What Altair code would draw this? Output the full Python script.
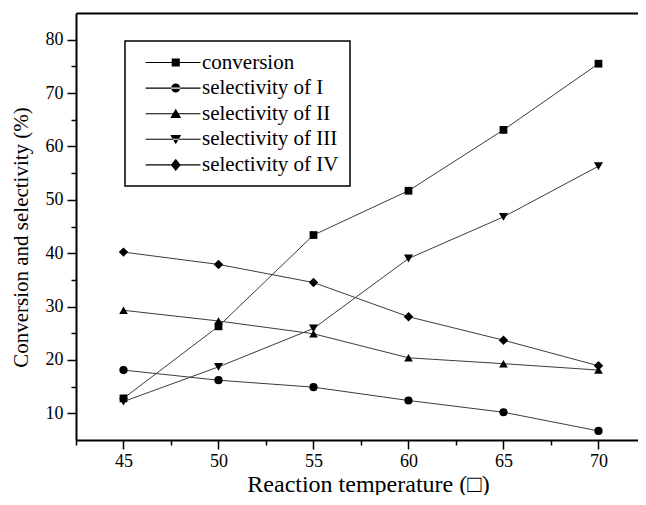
import altair as alt
import pandas as pd

temps = [45, 50, 55, 60, 65, 70]
series_names = ["conversion", "selectivity of I", "selectivity of II",
                "selectivity of III", "selectivity of IV"]
conversion = [12.8, 26.3, 43.4, 51.7, 63.1, 75.5]
sel_I = [18.1, 16.2, 14.9, 12.4, 10.2, 6.7]
sel_II = [29.3, 27.3, 24.9, 20.4, 19.3, 18.1]
sel_III = [12.2, 18.7, 25.9, 39.0, 46.8, 56.3]
sel_IV = [40.2, 37.9, 34.5, 28.1, 23.7, 18.9]

x_major = [45, 50, 55, 60, 65, 70]
x_minor = [42.5, 47.5, 52.5, 57.5, 62.5, 67.5]
y_major = [10, 20, 30, 40, 50, 60, 70, 80]
y_minor = [15, 25, 35, 45, 55, 65, 75]

rows = []
for name, vals in zip(series_names, [conversion, sel_I, sel_II, sel_III, sel_IV]):
    for t, v in zip(temps, vals):
        rows.append({"temp": t, "value": v, "series": name})
df = pd.DataFrame(rows)

FONT = "Liberation Serif"
xs = alt.Scale(domain=[42.5, 72.08], nice=False, zero=False)
ys = alt.Scale(domain=[5, 85], nice=False, zero=False)

shapes = ["square", "circle", "triangle-up", "triangle-down", "diamond"]
sizes = [60, 90, 95, 95, 130]

# legend glyph: thin filled bar (the connecting line) + the marker
line_seg = "M-0.2,-0.12H12.0V0.12H-0.2Z"
legend_paths = [
    line_seg + "M5.6,-0.9H7.4V0.9H5.6Z",
    line_seg + "M5.5,0A1,1 0 1,0 7.5,0A1,1 0 1,0 5.5,0Z",
    line_seg + "M6.5,-1.1L7.7,0.95L5.3,0.95Z",
    line_seg + "M6.5,1.1L7.7,-0.95L5.3,-0.95Z",
    line_seg + "M6.5,-1.35L7.6,0L6.5,1.35L5.4,0Z",
]

base = alt.Chart(df)

lines = base.mark_line(color="#3c3c3c", strokeWidth=1).encode(
    x=alt.X("temp:Q", scale=xs, axis=alt.Axis(
        orient="bottom", values=x_major, tickSize=9, title="Reaction temperature (□)",
        titleX=292, titleY=51, titleBaseline="alphabetic", titleAlign="center",
        titleFontSize=24, labelFontSize=18, labelPadding=3)),
    y=alt.Y("value:Q", scale=ys, axis=alt.Axis(
        orient="left", values=y_major, tickSize=9, title="Conversion and selectivity (%)",
        titleX=-45, titleY=224, titleAlign="center", titleBaseline="bottom",
        titleFontSize=21, labelFontSize=18, labelPadding=4)),
    detail="series:N",
)

points = base.mark_point(filled=True, color="black", opacity=1).encode(
    x=alt.X("temp:Q", scale=xs, axis=None),
    y=alt.Y("value:Q", scale=ys, axis=None),
    shape=alt.Shape("series:N", scale=alt.Scale(domain=series_names, range=shapes), legend=None),
    size=alt.Size("series:N", scale=alt.Scale(domain=series_names, range=sizes), legend=None),
)

legend_layer = base.transform_filter("false").mark_point(
    filled=True, color="black", opacity=1
).encode(
    x=alt.X("temp:Q", scale=xs, axis=None),
    y=alt.Y("value:Q", scale=ys, axis=None),
    shape=alt.Shape("series:N", scale=alt.Scale(domain=series_names, range=legend_paths),
                    legend=alt.Legend(
                        title=None, orient="none", legendX=49, legendY=28,
                        padding=11, strokeColor="black", fillColor="white",
                        labelFont=FONT, labelFontSize=21, labelColor="black",
                        labelOffset=45, symbolSize=81, symbolFillColor="black",
                        symbolOpacity=1, rowPadding=3.6, labelLimit=400)),
)

minor = base.transform_filter("false").mark_point().encode(
    x=alt.X("temp:Q", scale=xs, axis=alt.Axis(
        orient="bottom", values=x_minor, tickSize=5, labels=False, domain=False, title=None)),
    y=alt.Y("value:Q", scale=ys, axis=alt.Axis(
        orient="left", values=y_minor, tickSize=5, labels=False, domain=False, title=None)),
)

top_frame = base.transform_filter("false").mark_point().encode(
    x=alt.X("temp:Q", scale=xs, axis=alt.Axis(
        orient="top", ticks=False, labels=False, domain=True, title=None)),
    y=alt.Y("value:Q", scale=ys, axis=None),
)

chart = alt.layer(lines, points, legend_layer, minor, top_frame).resolve_scale(
    shape="independent", size="independent"
).resolve_axis(x="independent", y="independent").properties(
    width=562, height=427,
    autosize=alt.AutoSizeParams(type="none"),
    padding={"left": 68, "top": 5, "right": 0, "bottom": 55},
).configure(font=FONT).configure_axis(
    grid=False, domainColor="black", domainWidth=2, tickColor="black", tickWidth=1.5,
    labelColor="black", titleColor="black", labelFont=FONT, titleFont=FONT,
    titleFontWeight="normal",
).configure_legend(strokeWidth=1.5).configure_view(strokeWidth=0)

chart.save("out.html", embed_options={"renderer": "svg", "actions": False})
